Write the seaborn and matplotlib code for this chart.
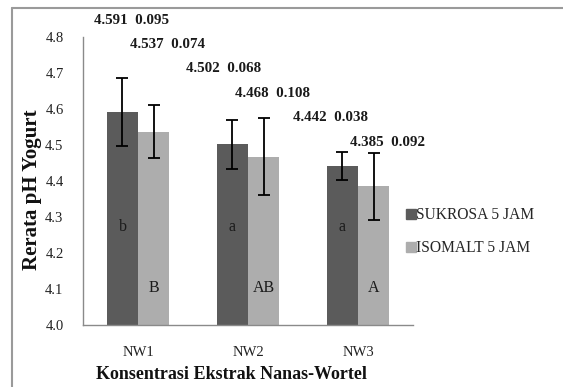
import matplotlib
matplotlib.use("Agg")
import matplotlib.pyplot as plt
from matplotlib.lines import Line2D
from matplotlib.container import BarContainer
import seaborn as sns
import pandas as pd
import numpy as np

# Data
categories = ["NW1", "NW2", "NW3"]
series_names = ["SUKROSA 5 JAM", "ISOMALT 5 JAM"]
sukrosa_mean = [4.591, 4.502, 4.442]
sukrosa_sd = [0.095, 0.068, 0.038]
isomalt_mean = [4.537, 4.468, 4.385]
isomalt_sd = [0.074, 0.108, 0.092]
sukrosa_letters = ["b", "a", "a"]
isomalt_letters = ["B", "AB", "A"]
y_ticks = [4.0, 4.1, 4.2, 4.3, 4.4, 4.5, 4.6, 4.7, 4.8]

colors = ["#5b5b5b", "#adadad"]

sns.set_style("white")
plt.rcParams["font.family"] = ["Liberation Serif", "DejaVu Serif"]

df = pd.DataFrame({
    "kategori": categories * 2,
    "seri": [series_names[0]] * 3 + [series_names[1]] * 3,
    "ph": sukrosa_mean + isomalt_mean,
})

fig = plt.figure(figsize=(5.63, 3.87), dpi=100)
ax = fig.add_axes([83 / 563, 1 - 325 / 387, 330 / 563, 288 / 387])

sns.barplot(data=df, x="kategori", y="ph", hue="seri", order=categories,
            hue_order=series_names, palette=colors, width=0.565,
            errorbar=None, ax=ax, saturation=1, legend=False)

means = [sukrosa_mean, isomalt_mean]
sds = [sukrosa_sd, isomalt_sd]
letters = [sukrosa_letters, isomalt_letters]
letter_y = [4.272, 4.103]

bar_groups = [c for c in ax.containers if isinstance(c, BarContainer)]
centers = []
for k, cont in enumerate(bar_groups):
    xs = [b.get_x() + b.get_width() / 2 for b in cont]
    centers.append(xs)
    for b in cont:
        b.set_edgecolor("none")
    ax.errorbar(xs, means[k], yerr=sds[k], fmt="none", ecolor="black",
                elinewidth=1.3, capsize=4.5, capthick=1.3, zorder=5)
    for x, lab in zip(xs, letters[k]):
        ax.text(x, letter_y[k], lab, ha="center", va="center",
                fontsize=11.5, color="#1a1a1a", zorder=6)

# Mean / SD labels stacked above the bars
label_dx = [[0.085, -0.08, -0.105], [0.125, 0.085, 0.125]]
order = [(0, 0), (1, 0), (0, 1), (1, 1), (0, 2), (1, 2)]
for i, (k, j) in enumerate(order):
    x = centers[k][j] + label_dx[k][j]
    y = 4.847 - i * 0.0678
    ax.text(x, y, f"{means[k][j]:.3f}  {sds[k][j]:.3f}", ha="center",
            va="center", fontsize=10.8, fontweight="bold", color="#1a1a1a",
            clip_on=False)

ax.set_ylim(4.0, 4.8)
ax.set_xlim(-0.5, 2.5)
ax.set_yticks(y_ticks)
ax.set_yticklabels([f"{t:.1f}" for t in y_ticks], fontsize=10.5, color="#222222")
ax.set_xticks(range(len(categories)))
ax.set_xticklabels(categories, fontsize=10.5, color="#222222")
ax.set_xticks([-0.5, 0.5, 1.5, 2.5], minor=True)
ax.tick_params(axis="x", which="major", length=0, pad=15)
ax.tick_params(axis="x", which="minor", length=5, color="#8a8a8a", width=1)
ax.tick_params(axis="y", length=5, color="#8a8a8a", width=1, pad=9)

for s in ["top", "right"]:
    ax.spines[s].set_visible(False)
for s in ["left", "bottom"]:
    ax.spines[s].set_color("#8a8a8a")
    ax.spines[s].set_linewidth(1)

ax.set_xlabel("Konsentrasi Ekstrak Nanas-Wortel", fontsize=13,
              fontweight="bold", color="#111111")
ax.xaxis.set_label_coords((231 - 83) / 330, (325 - 366) / 288)
ax.set_ylabel("Rerata pH Yogurt", fontsize=15, fontweight="bold", color="#111111")
ax.yaxis.set_label_coords((42 - 83) / 330, (325 - 190) / 288)

handles = [Line2D([], [], marker="s", linestyle="none", markersize=6.5,
                  markerfacecolor=c, markeredgecolor=c) for c in colors]
fig.legend(handles, series_names, loc="upper left",
           bbox_to_anchor=(400 / 563, 1 - 201 / 387), frameon=False,
           fontsize=11.2, handlelength=0.6, handletextpad=0.05,
           labelspacing=1.1, borderaxespad=0)

# Outer frame
fig.add_artist(Line2D([12 / 563, 1], [1 - 7.5 / 387] * 2, transform=fig.transFigure,
                      color="#9a9a9a", linewidth=1.5))
fig.add_artist(Line2D([12 / 563] * 2, [0, 1 - 7.5 / 387], transform=fig.transFigure,
                      color="#9a9a9a", linewidth=1.5))

fig.savefig("out.png", dpi=100)
